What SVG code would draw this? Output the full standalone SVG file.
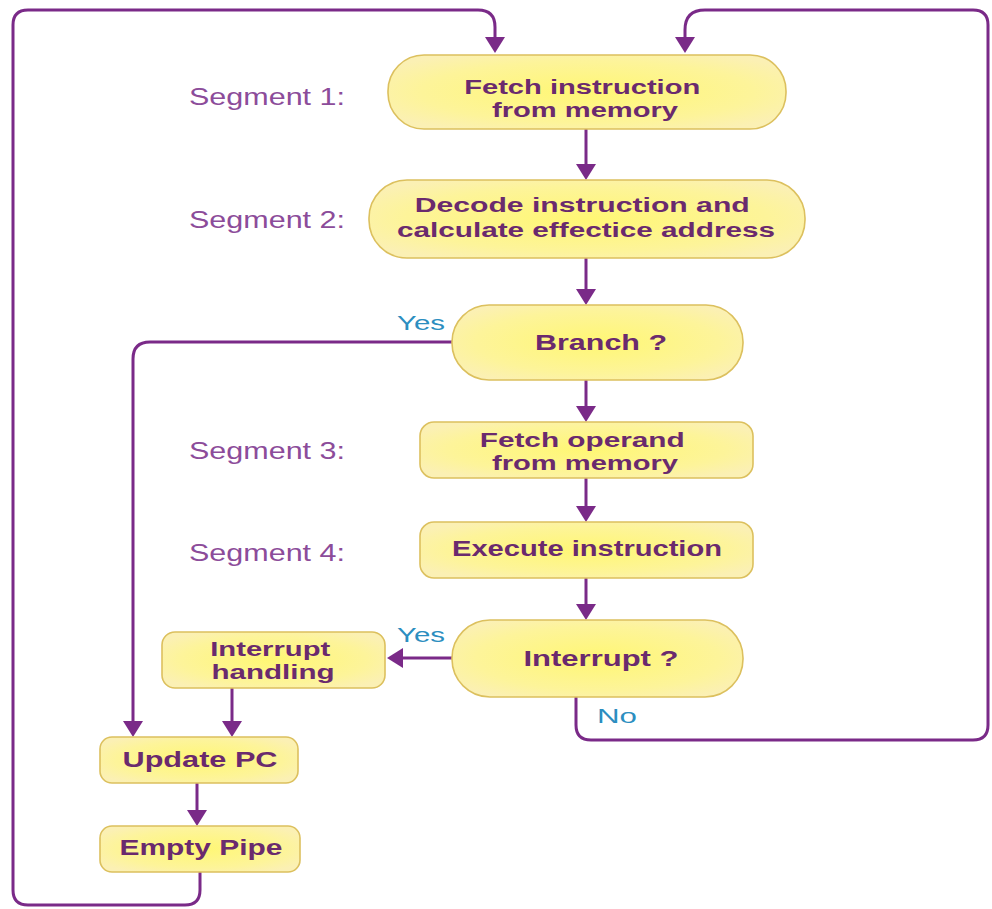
<svg xmlns="http://www.w3.org/2000/svg" width="992" height="909" viewBox="0 0 992 909">
  <defs>
    <radialGradient id="boxFill" cx="50%" cy="50%" r="60%">
      <stop offset="0%" stop-color="#fff774"/>
      <stop offset="70%" stop-color="#fdf49a"/>
      <stop offset="100%" stop-color="#fbf0b4"/>
    </radialGradient>
    <marker id="arrow" viewBox="0 0 16 20" markerWidth="16" markerHeight="20" refX="10" refY="10" orient="auto" markerUnits="userSpaceOnUse">
      <path d="M0,0 L16,10 L0,20 Z" fill="#7a2a88"/>
    </marker>
    <style>
      .box { fill: url(#boxFill); stroke: #dcc05e; stroke-width: 1.6; }
      .label { font-family: "Liberation Sans", Arial, sans-serif; font-weight: bold; font-size: 22px; fill: #6a2a6e; text-anchor: middle; }
      .two { font-size: 20px; }
      .seg { font-family: "Liberation Sans", Arial, sans-serif; font-size: 24px; fill: #8c4c9a; }
      .yn { font-family: "Liberation Sans", Arial, sans-serif; font-size: 20px; fill: #2c8ec0; }
      .wire { fill: none; stroke: #7a2a88; stroke-width: 3; }
      .arr { marker-end: url(#arrow); }
    </style>
  </defs>

  <rect width="992" height="909" fill="#ffffff"/>

  <!-- connectors -->
  <g id="connectors">
    <!-- outer return loop from Empty Pipe -->
    <path class="wire arr" d="M200,872 V890 Q200,905 185,905 H28 Q13,905 13,890 V25 Q13,10 28,10 H478 Q495,10 495,27 V47"/>
    <!-- no-interrupt return loop -->
    <path class="wire arr" d="M576,697 V725 Q576,740 591,740 H973 Q988,740 988,725 V25 Q988,10 973,10 H705 Q685,10 685,30 V47"/>
    <!-- main column -->
    <path class="wire arr" d="M586,129 V174"/>
    <path class="wire arr" d="M586,258 V299"/>
    <path class="wire arr" d="M586,380 V416"/>
    <path class="wire arr" d="M586,478 V516"/>
    <path class="wire arr" d="M586,578 V614"/>
    <!-- branch taken -->
    <path class="wire arr" d="M452,342 H150 Q133,342 133,359 V731"/>
    <!-- interrupt taken -->
    <path class="wire arr" d="M452,658 H393"/>
    <path class="wire arr" d="M232,688 V731"/>
    <path class="wire arr" d="M197,783 V820"/>
  </g>

  <!-- segment captions -->
  <text class="seg" x="189" y="105" textLength="156" lengthAdjust="spacingAndGlyphs">Segment 1:</text>
  <text class="seg" x="189" y="228" textLength="156" lengthAdjust="spacingAndGlyphs">Segment 2:</text>
  <text class="seg" x="189" y="459" textLength="156" lengthAdjust="spacingAndGlyphs">Segment 3:</text>
  <text class="seg" x="189" y="561" textLength="156" lengthAdjust="spacingAndGlyphs">Segment 4:</text>

  <!-- branch labels -->
  <text class="yn" x="397" y="330" textLength="48" lengthAdjust="spacingAndGlyphs">Yes</text>
  <text class="yn" x="397" y="642" textLength="48" lengthAdjust="spacingAndGlyphs">Yes</text>
  <text class="yn" x="597" y="723" textLength="40" lengthAdjust="spacingAndGlyphs">No</text>

  <g id="fetch-instruction">
    <rect class="box" x="388" y="55" width="398" height="74" rx="36"/>
    <text class="label two">
      <tspan x="585" y="94" textLength="236" lengthAdjust="spacingAndGlyphs">Fetch instruction</tspan>
      <tspan x="585" y="117" textLength="186" lengthAdjust="spacingAndGlyphs">from memory</tspan>
    </text>
  </g>

  <g id="decode">
    <rect class="box" x="369" y="180" width="436" height="78" rx="38"/>
    <text class="label two">
      <tspan x="585" y="212" textLength="335" lengthAdjust="spacingAndGlyphs">Decode instruction and</tspan>
      <tspan x="586" y="237" textLength="378" lengthAdjust="spacingAndGlyphs">calculate effectice address</tspan>
    </text>
  </g>

  <g id="branch">
    <rect class="box" x="452" y="305" width="291" height="75" rx="37"/>
    <text class="label" x="601" y="350" textLength="132" lengthAdjust="spacingAndGlyphs">Branch ?</text>
  </g>

  <g id="fetch-operand">
    <rect class="box" x="420" y="422" width="333" height="56" rx="14"/>
    <text class="label two">
      <tspan x="585" y="447" textLength="205" lengthAdjust="spacingAndGlyphs">Fetch operand</tspan>
      <tspan x="585" y="470" textLength="186" lengthAdjust="spacingAndGlyphs">from memory</tspan>
    </text>
  </g>

  <g id="execute">
    <rect class="box" x="420" y="522" width="333" height="56" rx="14"/>
    <text class="label" x="587" y="556" textLength="270" lengthAdjust="spacingAndGlyphs">Execute instruction</text>
  </g>

  <g id="interrupt">
    <rect class="box" x="452" y="620" width="291" height="77" rx="38"/>
    <text class="label" x="601" y="666" textLength="155" lengthAdjust="spacingAndGlyphs">Interrupt ?</text>
  </g>

  <g id="interrupt-handling">
    <rect class="box" x="162" y="632" width="223" height="56" rx="13"/>
    <text class="label two">
      <tspan x="273" y="656" textLength="120" lengthAdjust="spacingAndGlyphs">Interrupt</tspan>
      <tspan x="273" y="679" textLength="123" lengthAdjust="spacingAndGlyphs">handling</tspan>
    </text>
  </g>

  <g id="update-pc">
    <rect class="box" x="100" y="737" width="198" height="46" rx="12"/>
    <text class="label" x="200" y="767" textLength="155" lengthAdjust="spacingAndGlyphs">Update PC</text>
  </g>

  <g id="empty-pipe">
    <rect class="box" x="100" y="826" width="200" height="46" rx="12"/>
    <text class="label" x="201" y="855" textLength="163" lengthAdjust="spacingAndGlyphs">Empty Pipe</text>
  </g>
</svg>
